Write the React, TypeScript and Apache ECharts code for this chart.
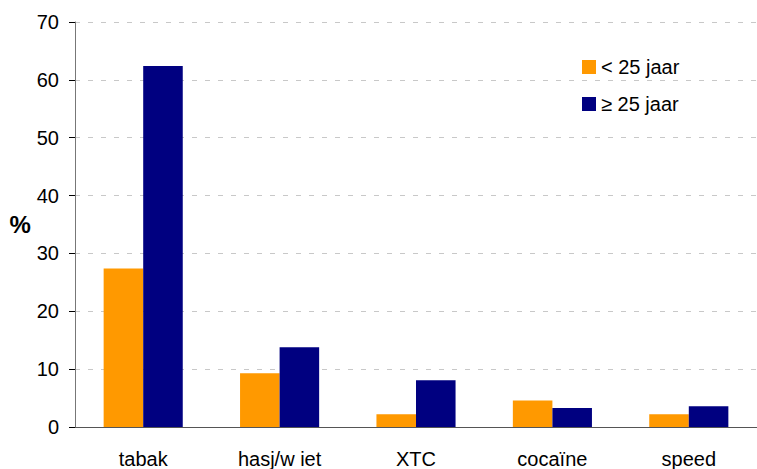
import React, { useEffect, useRef } from "react";
import * as echarts from "echarts";

const categories = ["tabak", "hasj/w iet", "XTC", "cocaïne", "speed"];
const under25 = [27.4, 9.3, 2.2, 4.6, 2.2];
const over25 = [62.4, 13.8, 8.1, 3.3, 3.6];
const seriesNames = ["< 25 jaar", "≥ 25 jaar"];

export default function App() {
  const ref = useRef<HTMLDivElement>(null);
  useEffect(() => {
    const chart = echarts.init(ref.current!, null, { renderer: "svg" });
    const font = "Arial, 'Liberation Sans', sans-serif";
    chart.setOption({
      animation: false,
      backgroundColor: "#fff",
      textStyle: { fontFamily: font },
      grid: { left: 75, top: 22, width: 685, height: 406, containLabel: false },
      legend: {
        orient: "vertical",
        left: 577,
        top: 52,
        itemWidth: 14,
        itemHeight: 14,
        itemGap: 17,
        icon: "rect",
        textStyle: { fontSize: 20, color: "#000", fontFamily: font },
        data: seriesNames,
      },
      xAxis: {
        type: "category",
        data: categories,
        axisLine: { lineStyle: { color: "#555", width: 1 } },
        axisTick: { length: 7, lineStyle: { color: "#000" } },
        axisLabel: { fontSize: 20, color: "#000", margin: 22, fontFamily: font },
      },
      yAxis: {
        type: "value",
        min: 0,
        max: 70,
        interval: 10,
        name: "%",
        nameLocation: "middle",
        nameRotate: 0,
        nameGap: 44,
        nameTextStyle: { fontSize: 24, fontWeight: "bold", color: "#000", fontFamily: font },
        axisLine: { show: true, lineStyle: { color: "#777", width: 1 } },
        axisTick: { show: true, length: 6, lineStyle: { color: "#000" } },
        axisLabel: { fontSize: 20, color: "#000", margin: 16, fontFamily: font },
        splitLine: { show: true, lineStyle: { color: "#c8c8c8", type: [5, 8] } },
      },
      series: [
        {
          name: seriesNames[0],
          type: "bar",
          data: under25,
          itemStyle: { color: "#FF9900" },
          barCategoryGap: "42%",
          barGap: "0%",
        },
        {
          name: seriesNames[1],
          type: "bar",
          data: over25,
          itemStyle: { color: "#000080" },
          barCategoryGap: "42%",
          barGap: "0%",
        },
      ],
    });
    return () => chart.dispose();
  }, []);
  return (
    <div
      ref={ref}
      style={{ position: "fixed", left: 0, top: 0, width: 757, height: 469 }}
    />
  );
}
